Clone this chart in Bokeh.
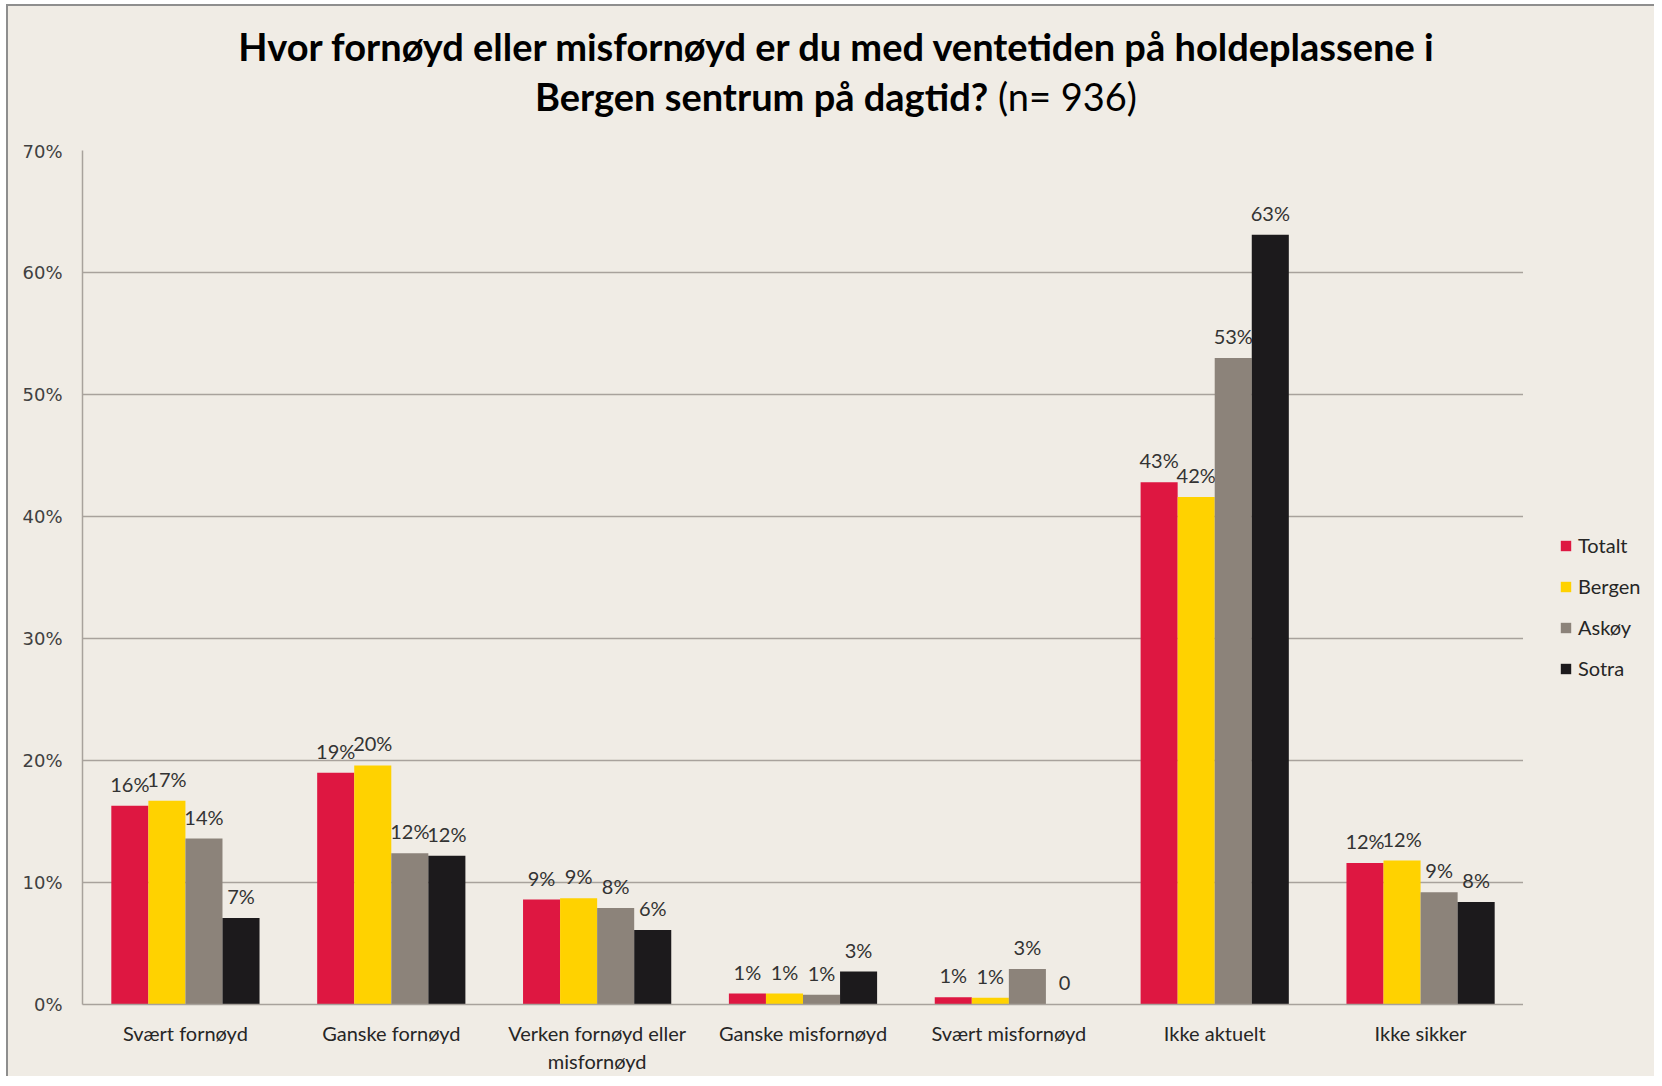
from bokeh.plotting import figure
from bokeh.models import (ColumnDataSource, Legend, LegendItem, FixedTicker,
                          PrintfTickFormatter, Range1d, FactorRange, Div)
from bokeh.layouts import column, row
from bokeh.transform import dodge
from bokeh.core.properties import value
from bokeh.embed import file_html
from bokeh.resources import INLINE

# ---- data ----
categories = ["Svært fornøyd", "Ganske fornøyd", "Verken fornøyd eller\nmisfornøyd",
              "Ganske misfornøyd", "Svært misfornøyd", "Ikke aktuelt", "Ikke sikker"]
series = ["Totalt", "Bergen", "Askøy", "Sotra"]
totalt = [16.3, 19.0, 8.6, 0.9, 0.6, 42.8, 11.6]
bergen = [16.7, 19.6, 8.7, 0.9, 0.55, 41.6, 11.8]
askoy = [13.6, 12.4, 7.9, 0.8, 2.9, 53.0, 9.2]
sotra = [7.1, 12.2, 6.1, 2.7, 0.0, 63.1, 8.4]
y_ticks = [0, 10, 20, 30, 40, 50, 60, 70]
title_line1 = "Hvor fornøyd eller misfornøyd er du med ventetiden på holdeplassene i"
title_line2_bold = "Bergen sentrum på dagtid?"
title_line2_normal = "(n= 936)"

colors = ["#DE1741", "#FFD200", "#8C837A", "#1C1A1C"]
bg = "#F0ECE5"
grid = "#A8A29C"


def fmt(v):
    return "0" if v == 0 else f"{v:.0f}%"


W = 1646
TITLE_H = 134
FRAME_W = 1441
LEFT = 74
PLOT_H = 930
LEG_W = W - LEFT - FRAME_W

title_html = (
    f'<div style="display:block;width:{W}px;box-sizing:border-box;'
    'padding-top:15px;padding-left:10px;text-align:center;'
    'font-family:Lato;font-size:38px;line-height:50px;color:#000;">'
    f'<b>{title_line1}<br>{title_line2_bold}</b> {title_line2_normal}</div>'
)
div = Div(text=title_html, width=W, height=TITLE_H, margin=0,
          styles={"background-color": bg})

p = figure(x_range=FactorRange(factors=categories), y_range=Range1d(0, 70),
           frame_width=FRAME_W, frame_height=854, output_backend="svg", toolbar_location=None,
           min_border_left=LEFT, min_border_right=0, min_border_top=10, min_border_bottom=66,
           background_fill_color=bg, border_fill_color=bg, outline_line_color=None,
           margin=0)

bar_w = 0.18
for i, (name, vals, col) in enumerate(zip(series, [totalt, bergen, askoy, sotra], colors)):
    off = (i - 1.5) * bar_w
    src = ColumnDataSource(dict(cat=categories, val=vals, lab=[fmt(v) for v in vals]))
    p.vbar(x=dodge("cat", off, range=p.x_range), top="val", width=bar_w, source=src,
           fill_color=col, line_color=None)
    p.text(x=dodge("cat", off, range=p.x_range), y="val", text="lab", source=src,
           text_align="center", text_baseline="alphabetic", y_offset=-22,
           text_font=value("Lato"), text_font_size="20px", text_color="#333333")

# axes
p.xaxis.major_label_text_font = "Lato"
p.xaxis.major_label_text_font_size = "20px"
p.xaxis.major_label_text_color = "#262626"
p.xaxis.axis_line_color = grid
p.xaxis.axis_line_width = 1.5
p.xaxis.major_tick_line_color = None
p.xaxis.major_tick_out = 0
p.xaxis.major_tick_in = 0
p.xaxis.minor_tick_line_color = None
p.xaxis.major_label_standoff = 16

p.yaxis.ticker = FixedTicker(ticks=y_ticks)
p.yaxis.formatter = PrintfTickFormatter(format="%d%%")
p.yaxis.major_label_text_font = "DejaVu Sans"
p.yaxis.major_label_text_font_size = "18px"
p.yaxis.major_label_text_color = "#404040"
p.yaxis.axis_line_color = grid
p.yaxis.axis_line_width = 1.5
p.yaxis.major_tick_line_color = None
p.yaxis.major_tick_out = 0
p.yaxis.major_tick_in = 0
p.yaxis.minor_tick_line_color = None
p.yaxis.major_label_standoff = 20

p.xgrid.grid_line_color = None
p.ygrid.grid_line_color = grid
p.ygrid.grid_line_width = 1.5

# legend panel (separate small figure; swatch renderers lie outside its visible range)
pl = figure(width=LEG_W, height=PLOT_H, x_range=Range1d(0, 1), y_range=Range1d(0, 1),
            output_backend="svg", toolbar_location=None, min_border=0,
            x_axis_location=None, y_axis_location=None,
            background_fill_color=bg, border_fill_color=bg, outline_line_color=None,
            margin=0)
pl.xgrid.grid_line_color = None
pl.ygrid.grid_line_color = None
items = []
for name, col in zip(series, colors):
    r = pl.vbar(x=[-10], top=[0], width=0.1, fill_color=col, line_color=None)
    items.append(LegendItem(label=name, renderers=[r]))
legend = Legend(items=items, location=(36, 318), orientation="vertical",
                glyph_width=13, glyph_height=13, label_height=20, spacing=17,
                padding=0, margin=0, border_line_color=None, background_fill_alpha=0,
                label_text_font="Lato", label_text_font_size="20px",
                label_text_color="#262626", label_standoff=6)
pl.add_layout(legend)

layout = column(div, row(p, pl, spacing=0, margin=0), spacing=0, margin=(4, 0, 0, 6),
                styles={"background-color": bg,
                        "border-left": "2px solid #8E8E8E",
                        "border-top": "2px solid #8E8E8E"})
open("out.html", "w").write(file_html(layout, INLINE))
